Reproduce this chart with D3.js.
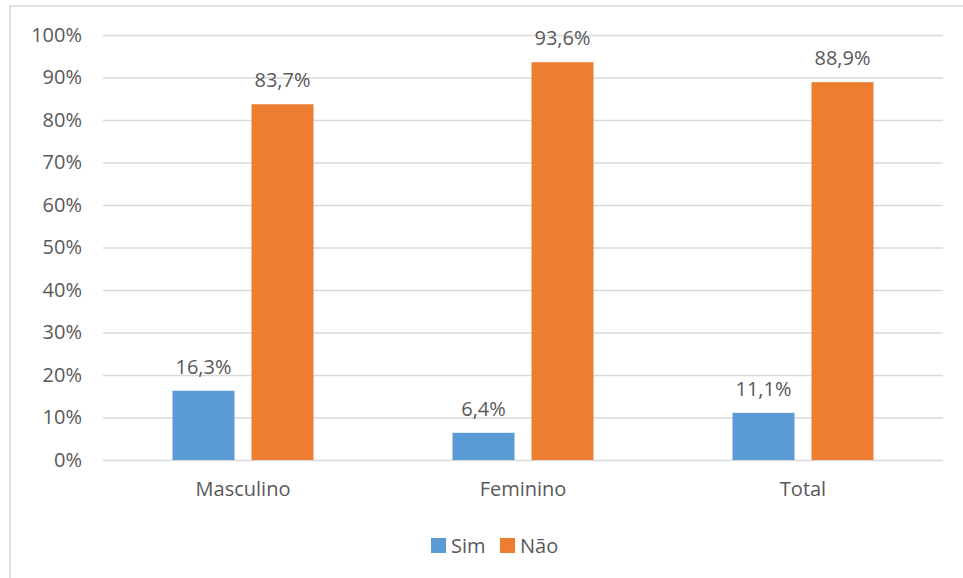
<!DOCTYPE html>
<html>
<head>
<meta charset="utf-8">
<script src="https://cdn.jsdelivr.net/npm/d3@7"></script>
<style>
  html, body { margin: 0; padding: 0; background: #fff; }
  svg { display: block; font-family: "Open Sans", "Noto Sans", sans-serif; }
</style>
</head>
<body>
<svg id="chart" width="963" height="578"></svg>
<script>
// Respondents by sex: share answering "Sim" / "Não"
const categories = ["Masculino", "Feminino", "Total"];
const seriesNames = ["Sim", "Não"];
const simValues = [16.3, 6.4, 11.1];
const naoValues = [83.7, 93.6, 88.9];
const yTicks = [0, 10, 20, 30, 40, 50, 60, 70, 80, 90, 100];

const colors = { "Sim": "#5B9BD5", "Não": "#ED7D31" };
const textColor = "#595959";
const gridColor = "#D9D9D9";
const fontSize = 20;

const svg = d3.select("#chart");
const plotLeft = 103, plotRight = 943, plotTop = 35, plotBottom = 460;

// Outer chart frame (continues past the right and bottom edges)
svg.append("rect")
  .attr("x", 10).attr("y", 6)
  .attr("width", 1000).attr("height", 1000)
  .attr("fill", "none")
  .attr("stroke", gridColor)
  .attr("stroke-width", 1.5);

const x0 = d3.scaleBand()
  .domain(categories)
  .range([plotLeft, plotRight])
  .paddingInner(0)
  .paddingOuter(0);

// Two bars of 62px with a 17px gap inside each 280px band
const x1 = d3.scaleBand()
  .domain(seriesNames)
  .range([69.5, 280 - 69.5])
  .paddingInner(17 / 79)
  .paddingOuter(0);

const y = d3.scaleLinear().domain([0, 100]).range([plotBottom, plotTop]);

// Gridlines and y labels
const yAxis = d3.axisLeft(y)
  .tickValues(yTicks)
  .tickSize(-(plotRight - plotLeft))
  .tickPadding(21)
  .tickFormat(d => d + "%");

const gy = svg.append("g")
  .attr("transform", `translate(${plotLeft},0)`)
  .call(yAxis);
gy.select(".domain").remove();
gy.selectAll(".tick line").attr("stroke", gridColor).attr("stroke-width", 1.3);
gy.selectAll(".tick text")
  .attr("fill", textColor)
  .attr("font-size", fontSize)
  .attr("font-family", "'Open Sans', 'Noto Sans', sans-serif");

// Category axis labels
const gx = svg.append("g")
  .attr("transform", `translate(0,${plotBottom})`)
  .call(d3.axisBottom(x0).tickSize(0).tickPadding(22));
gx.select(".domain").remove();
gx.selectAll(".tick text")
  .attr("fill", textColor)
  .attr("font-size", fontSize)
  .attr("font-family", "'Open Sans', 'Noto Sans', sans-serif");

// Bars
const rows = categories.map((c, i) => ({
  category: c,
  values: [
    { key: "Sim", value: simValues[i] },
    { key: "Não", value: naoValues[i] }
  ]
}));

const fmt = v => v.toFixed(1).replace(".", ",") + "%";

const groups = svg.append("g").selectAll("g")
  .data(rows)
  .join("g")
  .attr("transform", d => `translate(${x0(d.category)},0)`);

groups.selectAll("rect")
  .data(d => d.values)
  .join("rect")
  .attr("x", d => x1(d.key))
  .attr("width", x1.bandwidth())
  .attr("y", d => y(d.value))
  .attr("height", d => y(0) - y(d.value))
  .attr("fill", d => colors[d.key]);

groups.selectAll("text.value")
  .data(d => d.values)
  .join("text")
  .attr("class", "value")
  .attr("x", d => x1(d.key) + x1.bandwidth() / 2)
  .attr("y", d => y(d.value) - 17)
  .attr("text-anchor", "middle")
  .attr("fill", textColor)
  .attr("font-size", fontSize)
  .text(d => fmt(d.value));

// Legend
const legend = svg.append("g").attr("transform", "translate(431,538)");
const legendItems = [
  { key: "Sim", dx: 0 },
  { key: "Não", dx: 69 }
];
const li = legend.selectAll("g").data(legendItems).join("g")
  .attr("transform", d => `translate(${d.dx},0)`);
li.append("rect")
  .attr("width", 15).attr("height", 15)
  .attr("fill", d => colors[d.key]);
li.append("text")
  .attr("x", 20).attr("y", 14.5)
  .attr("fill", textColor)
  .attr("font-size", fontSize)
  .text(d => d.key);
</script>
</body>
</html>
